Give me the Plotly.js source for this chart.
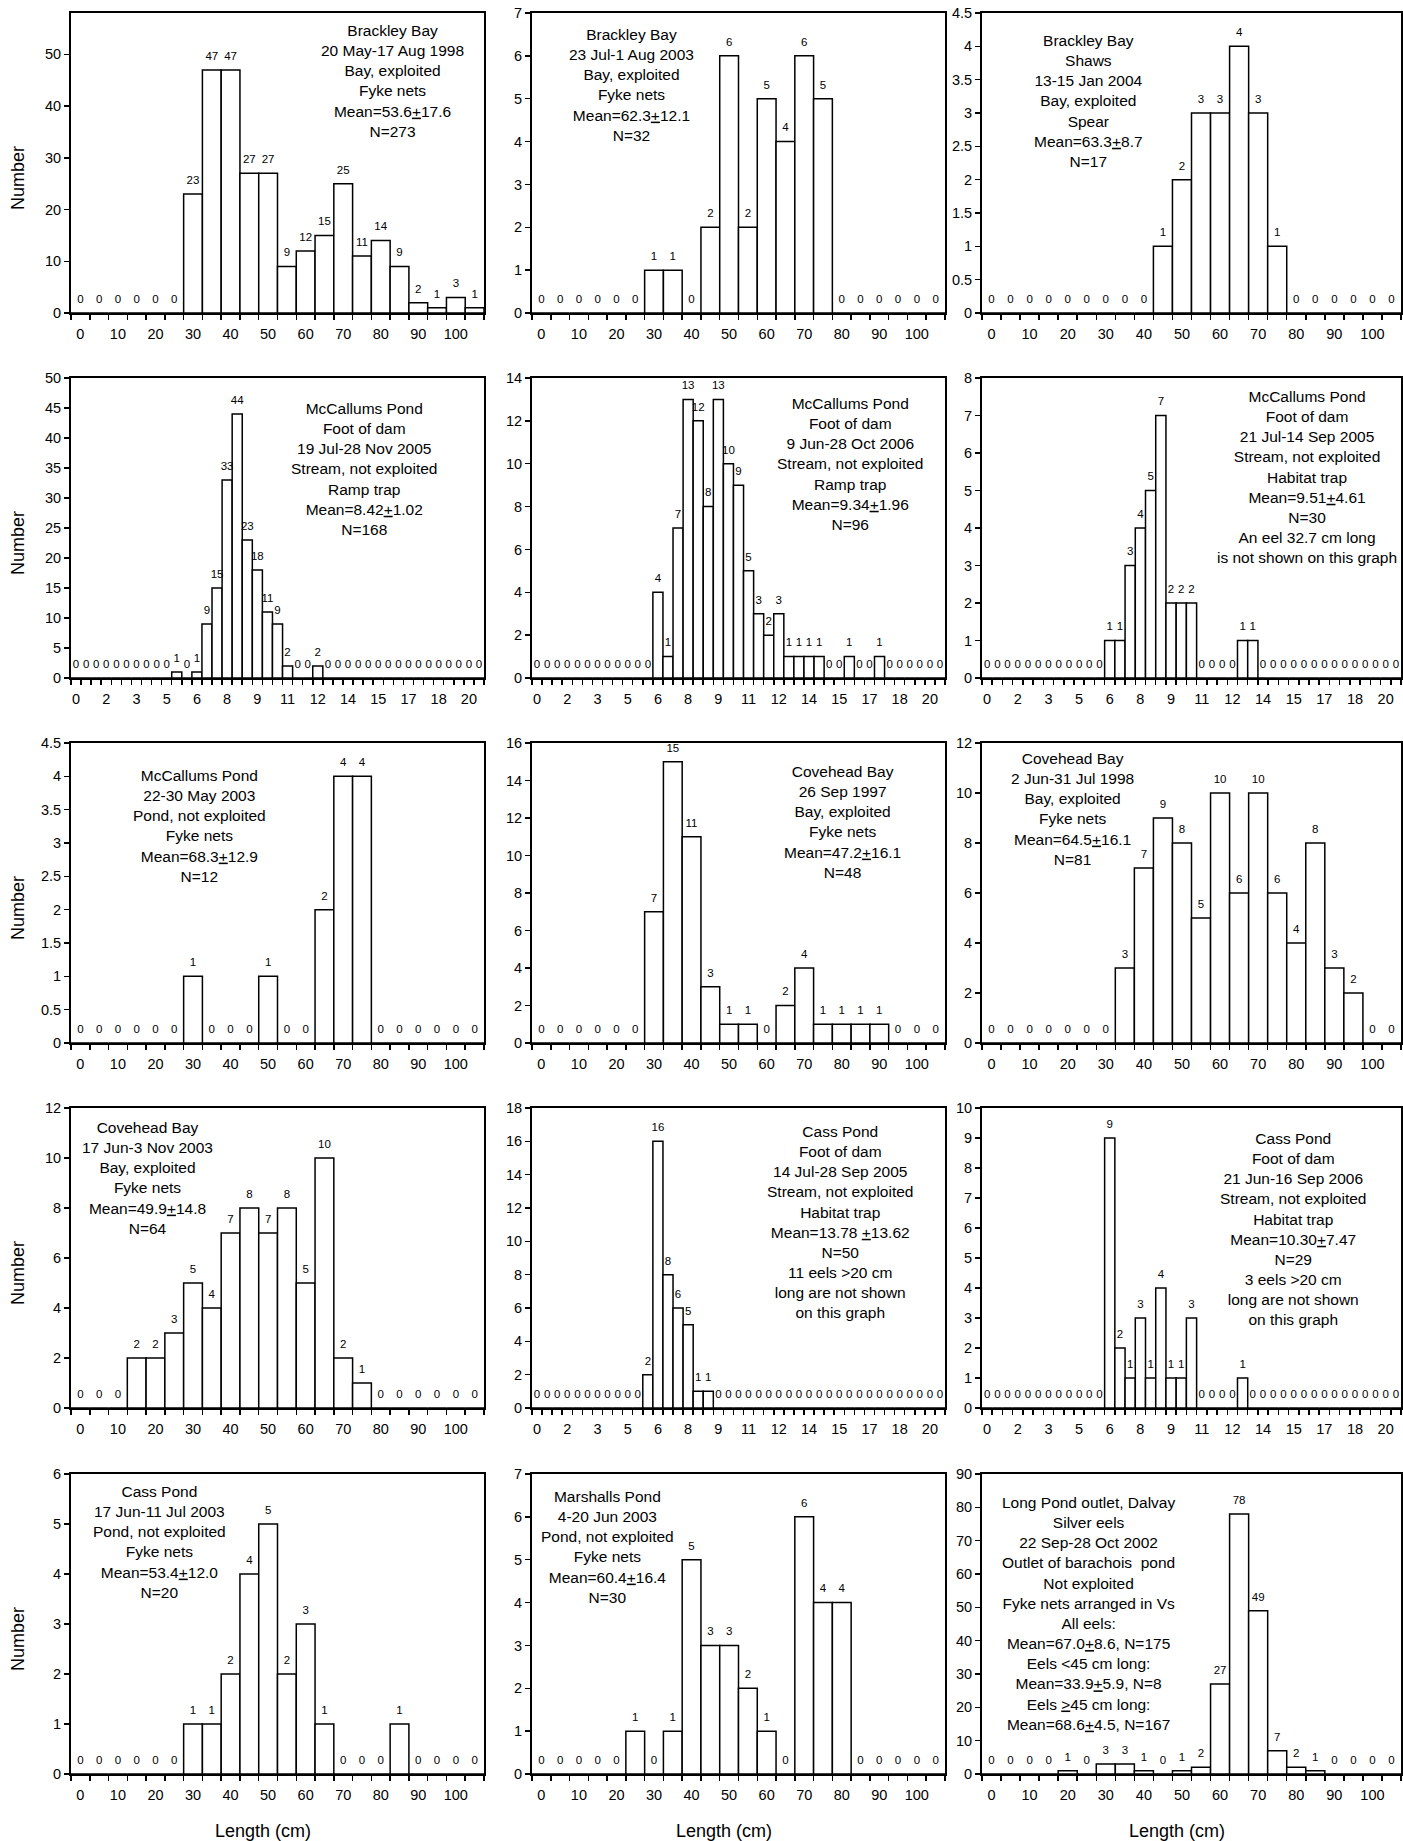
<!DOCTYPE html>
<html><head><meta charset="utf-8">
<script src="https://cdn.plot.ly/plotly-3.0.1.min.js"></script>
<style>html,body{margin:0;padding:0;background:#fff}#chart{width:1403px;height:1841px}</style>
</head><body><div id="chart"></div>
<script>
// ---- categories / ticks ----
const cmBins = [0,5,10,15,20,25,30,35,40,45,50,55,60,65,70,75,80,85,90,95,100,105];
const cmTickVals = [0,10,20,30,40,50,60,70,80,90,100];
const cmTickText = ["0","10","20","30","40","50","60","70","80","90","100"];
const smallBins = [0,0.5,1,1.5,2,2.5,3,3.5,4,4.5,5,5.5,6,6.5,7,7.5,8,8.5,9,9.5,10,10.5,11,11.5,12,12.5,13,13.5,14,14.5,15,15.5,16,16.5,17,17.5,18,18.5,19,19.5,20];
const smallTickVals = [0,1.5,3,4.5,6,7.5,9,10.5,12,13.5,15,16.5,18,19.5];
const smallTickText = ["0","2","3","5","6","8","9","11","12","14","15","17","18","20"];

// ---- series values ----
const brackley1998 = [0,0,0,0,0,0,23,47,47,27,27,9,12,15,25,11,14,9,2,1,3,1];
const brackley2003 = [0,0,0,0,0,0,1,1,0,2,6,2,5,4,6,5,0,0,0,0,0,0];
const brackleyShaws2004 = [0,0,0,0,0,0,0,0,0,1,2,3,3,4,3,1,0,0,0,0,0,0];
const mccallumsRamp2005 = [0,0,0,0,0,0,0,0,0,0, 1,0,1,9,15,33,44,23,18,11, 9,2,0,0,2,0,0,0,0,0, 0,0,0,0,0,0,0,0,0,0, 0];
const mccallumsRamp2006 = [0,0,0,0,0,0,0,0,0,0, 0,0,4,1,7,13,12,8,13,10, 9,5,3,2,3,1,1,1,1,0, 0,1,0,0,1,0,0,0,0,0, 0];
const mccallumsHabitat2005 = [0,0,0,0,0,0,0,0,0,0, 0,0,1,1,3,4,5,7,2,2, 2,0,0,0,0,1,1,0,0,0, 0,0,0,0,0,0,0,0,0,0, 0];
const mccallumsPond2003 = [0,0,0,0,0,0,1,0,0,0,1,0,0,2,4,4,0,0,0,0,0,0];
const covehead1997 = [0,0,0,0,0,0,7,15,11,3,1,1,0,2,4,1,1,1,1,0,0,0];
const covehead1998 = [0,0,0,0,0,0,0,3,7,9,8,5,10,6,10,6,4,8,3,2,0,0];
const covehead2003 = [0,0,0,2,2,3,5,4,7,8,7,8,5,10,2,1,0,0,0,0,0,0];
const cassHabitat2005 = [0,0,0,0,0,0,0,0,0,0, 0,2,16,8,6,5,1,1,0,0, 0,0,0,0,0,0,0,0,0,0, 0,0,0,0,0,0,0,0,0,0, 0];
const cassHabitat2006 = [0,0,0,0,0,0,0,0,0,0, 0,0,9,2,1,3,1,4,1,1, 3,0,0,0,0,1,0,0,0,0, 0,0,0,0,0,0,0,0,0,0, 0];
const cassPond2003 = [0,0,0,0,0,0,1,1,2,4,5,2,3,1,0,0,0,1,0,0,0,0];
const marshalls2003 = [0,0,0,0,0,1,0,1,5,3,3,2,1,0,6,4,4,0,0,0,0,0];
const longPond2002 = [0,0,0,0,1,0,3,3,1,0,1,2,27,78,49,7,2,1,0,0,0,0];

// ---- panel texts ----
const txt1 = ["Brackley Bay","20 May-17 Aug 1998","Bay, exploited","Fyke nets","Mean=53.6<u>+</u>17.6","N=273"];
const txt2 = ["Brackley Bay","23 Jul-1 Aug 2003","Bay, exploited","Fyke nets","Mean=62.3<u>+</u>12.1","N=32"];
const txt3 = ["Brackley Bay","Shaws","13-15 Jan 2004","Bay, exploited","Spear","Mean=63.3<u>+</u>8.7","N=17"];
const txt4 = ["McCallums Pond","Foot of dam","19 Jul-28 Nov 2005","Stream, not exploited","Ramp trap","Mean=8.42<u>+</u>1.02","N=168"];
const txt5 = ["McCallums Pond","Foot of dam","9 Jun-28 Oct 2006","Stream, not exploited","Ramp trap","Mean=9.34<u>+</u>1.96","N=96"];
const txt6 = ["McCallums Pond","Foot of dam","21 Jul-14 Sep 2005","Stream, not exploited","Habitat trap","Mean=9.51<u>+</u>4.61","N=30","An eel 32.7 cm long","is not shown on this graph"];
const txt7 = ["McCallums Pond","22-30 May 2003","Pond, not exploited","Fyke nets","Mean=68.3<u>+</u>12.9","N=12"];
const txt8 = ["Covehead Bay","26 Sep 1997","Bay, exploited","Fyke nets","Mean=47.2<u>+</u>16.1","N=48"];
const txt9 = ["Covehead Bay","2 Jun-31 Jul 1998","Bay, exploited","Fyke nets","Mean=64.5<u>+</u>16.1","N=81"];
const txt10 = ["Covehead Bay","17 Jun-3 Nov 2003","Bay, exploited","Fyke nets","Mean=49.9<u>+</u>14.8","N=64"];
const txt11 = ["Cass Pond","Foot of dam","14 Jul-28 Sep 2005","Stream, not exploited","Habitat trap","Mean=13.78 <u>+</u>13.62","N=50","11 eels &gt;20 cm","long are not shown","on this graph"];
const txt12 = ["Cass Pond","Foot of dam","21 Jun-16 Sep 2006","Stream, not exploited","Habitat trap","Mean=10.30<u>+</u>7.47","N=29","3 eels &gt;20 cm","long are not shown","on this graph"];
const txt13 = ["Cass Pond","17 Jun-11 Jul 2003","Pond, not exploited","Fyke nets","Mean=53.4<u>+</u>12.0","N=20"];
const txt14 = ["Marshalls Pond","4-20 Jun 2003","Pond, not exploited","Fyke nets","Mean=60.4<u>+</u>16.4","N=30"];
const txt15 = ["Long Pond outlet, Dalvay","Silver eels","22 Sep-28 Oct 2002","Outlet of barachois  pond","Not exploited","Fyke nets arranged in Vs","All eels:","Mean=67.0<u>+</u>8.6, N=175","Eels &lt;45 cm long:","Mean=33.9<u>+</u>5.9, N=8","Eels <u>&gt;</u>45 cm long:","Mean=68.6<u>+</u>4.5, N=167"];

const yTitle = "Number";
const xTitle = "Length (cm)";

// ---- panel configuration (styles / positions) ----
const panels = [
  {vals:brackley1998, kind:'cm', ymax:58, dtick:10, lines:txt1, tx:392, ty:31},
  {vals:brackley2003, kind:'cm', ymax:7, dtick:1, lines:txt2, tx:631, ty:35},
  {vals:brackleyShaws2004, kind:'cm', ymax:4.5, dtick:0.5, lines:txt3, tx:1088, ty:41},
  {vals:mccallumsRamp2005, kind:'small', ymax:50, dtick:5, lines:txt4, tx:364, ty:409},
  {vals:mccallumsRamp2006, kind:'small', ymax:14, dtick:2, lines:txt5, tx:850, ty:404},
  {vals:mccallumsHabitat2005, kind:'small', ymax:8, dtick:1, lines:txt6, tx:1307, ty:397},
  {vals:mccallumsPond2003, kind:'cm', ymax:4.5, dtick:0.5, lines:txt7, tx:199, ty:776},
  {vals:covehead1997, kind:'cm', ymax:16, dtick:2, lines:txt8, tx:842, ty:772},
  {vals:covehead1998, kind:'cm', ymax:12, dtick:2, lines:txt9, tx:1072, ty:759},
  {vals:covehead2003, kind:'cm', ymax:12, dtick:2, lines:txt10, tx:147, ty:1128},
  {vals:cassHabitat2005, kind:'small', ymax:18, dtick:2, lines:txt11, tx:840, ty:1132},
  {vals:cassHabitat2006, kind:'small', ymax:10, dtick:1, lines:txt12, tx:1293, ty:1139},
  {vals:cassPond2003, kind:'cm', ymax:6, dtick:1, lines:txt13, tx:159, ty:1492},
  {vals:marshalls2003, kind:'cm', ymax:7, dtick:1, lines:txt14, tx:607, ty:1497},
  {vals:longPond2002, kind:'cm', ymax:90, dtick:10, lines:txt15, tx:1088, ty:1503}
];

const W = 1403, HT = 1841, PH = 300;
const colL = [71, 532, 982], colR = [484, 945, 1401];
const rowT = [13, 378, 743, 1108, 1474];
const FONT = "Liberation Sans, Arial, Helvetica, sans-serif";
const TXT_FS = 15.5;

const traces = [];
const annotations = [];
const layout = {
  width: W, height: HT,
  margin: {l:0, r:0, t:0, b:0, pad:0},
  paper_bgcolor: 'white', plot_bgcolor: 'white',
  showlegend: false,
  font: {family: FONT, color: 'black', size: 14.5},
  barmode: 'overlay',
  annotations: annotations
};

panels.forEach((p, i) => {
  const r = Math.floor(i / 3), c = i % 3, n = i + 1;
  const k = n === 1 ? '' : String(n);
  const xa = 'x' + k, ya = 'y' + k;
  const isCm = p.kind === 'cm';
  const bins = isCm ? cmBins : smallBins;
  const w = isCm ? 5 : 0.5;

  traces.push({
    type: 'bar', x: bins, y: p.vals, width: w, xaxis: xa, yaxis: ya,
    marker: {color: 'white', line: {color: 'black', width: 1.5}},
    hoverinfo: 'skip'
  });
  traces.push({
    type: 'scatter', mode: 'markers+text', x: bins, y: p.vals,
    text: p.vals.map(String), textposition: 'top center',
    textfont: {size: 11.5, color: 'black', family: FONT},
    marker: {size: 10, opacity: 0, color: 'white'},
    xaxis: xa, yaxis: ya, cliponaxis: false, hoverinfo: 'skip'
  });

  layout['xaxis' + k] = {
    domain: [colL[c] / W, colR[c] / W], anchor: ya,
    range: isCm ? [-2.5, 107.5] : [-0.25, 20.25],
    tickmode: 'array',
    tickvals: isCm ? cmTickVals : smallTickVals,
    ticktext: isCm ? cmTickText : smallTickText,
    ticks: 'outside', ticklen: 7, tickcolor: 'rgba(0,0,0,0)',
    minor: {tickmode: 'linear', tick0: w / 2, dtick: w, ticks: 'outside', ticklen: 5, tickwidth: 1.5, tickcolor: 'black'},
    showline: true, linecolor: 'black', linewidth: 2, mirror: true,
    showgrid: false, zeroline: false,
    tickfont: {size: 14.5, family: FONT, color: 'black'}
  };
  layout['yaxis' + k] = {
    domain: [1 - (rowT[r] + PH) / HT, 1 - rowT[r] / HT], anchor: xa,
    range: [0, p.ymax], tickmode: 'linear', tick0: 0, dtick: p.dtick,
    ticks: 'outside', ticklen: 5, tickwidth: 1.5, tickcolor: 'black',
    showline: true, linecolor: 'black', linewidth: 2, mirror: true,
    showgrid: false, zeroline: false,
    tickfont: {size: 14.5, family: FONT, color: 'black'}
  };

  annotations.push({
    xref: 'paper', yref: 'paper',
    x: p.tx / W, y: 1 - (p.ty - 11) / HT,
    xanchor: 'center', yanchor: 'top', align: 'center', showarrow: false,
    text: p.lines.join('<br>'),
    font: {size: TXT_FS, family: FONT, color: 'black'}
  });
});

// y-axis titles (one per row)
rowT.forEach(t => {
  annotations.push({
    xref: 'paper', yref: 'paper', x: 18 / W, y: 1 - (t + PH / 2 + 15) / HT,
    xanchor: 'center', yanchor: 'middle', textangle: -90, showarrow: false,
    text: yTitle, font: {size: 18, family: FONT, color: 'black'}
  });
});
// x-axis titles (bottom row)
[263, 724, 1177].forEach(x => {
  annotations.push({
    xref: 'paper', yref: 'paper', x: x / W, y: 1 - 1831 / HT,
    xanchor: 'center', yanchor: 'middle', showarrow: false,
    text: xTitle, font: {size: 18, family: FONT, color: 'black'}
  });
});

Plotly.newPlot('chart', traces, layout, {staticPlot: true, displayModeBar: false});
</script>
</body></html>
